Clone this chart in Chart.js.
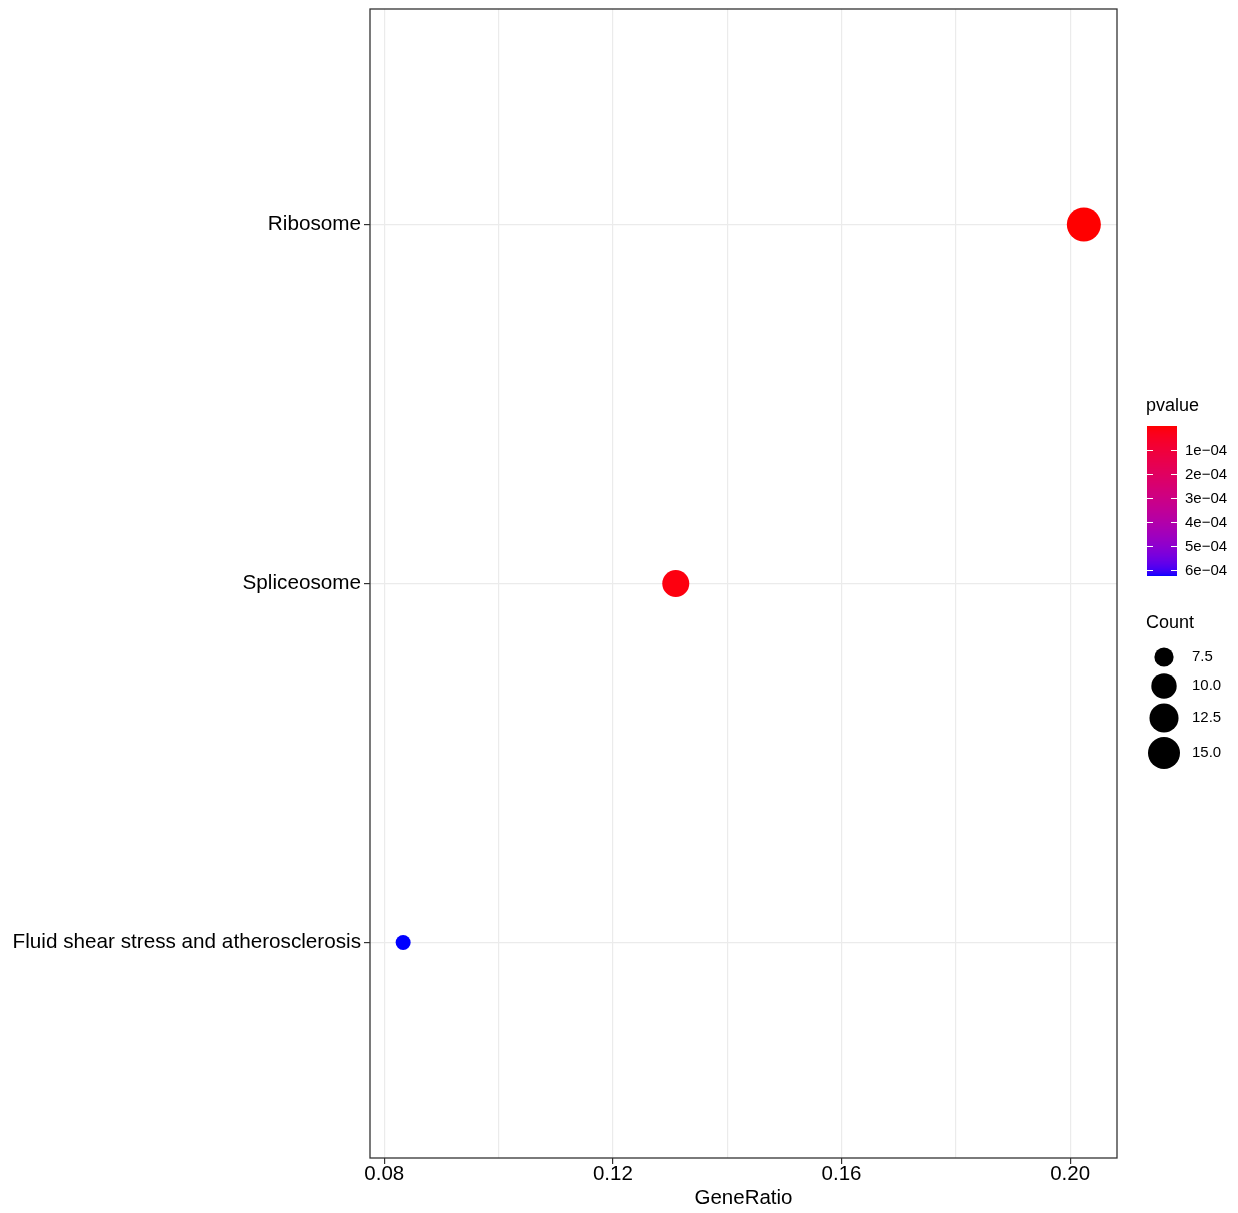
<!DOCTYPE html>
<html lang="en">
<head>
<meta charset="UTF-8" />
<title>KEGG enrichment dotplot</title>
<script src="https://cdn.jsdelivr.net/npm/chart.js"></script>
<style>
  body { margin: 0; background: #fff; }
</style>
</head>
<body>
<canvas id="myChart" width="1238" height="1213"></canvas>
<script>
// pathways, listed top to bottom
const pathways = ['Ribosome', 'Spliceosome', 'Fluid shear stress and atherosclerosis'];
const geneRatio = [0.2024, 0.1310, 0.0833];
const counts = [17, 11, 7];
const pvalues = [1.2e-7, 1.5e-5, 6.25e-4];

// x axis: labelled breaks and the minor grid in between
const xMajor = [0.08, 0.12, 0.16, 0.20];
const xMajorLabels = ['0.08', '0.12', '0.16', '0.20'];
const xMinor = [0.10, 0.14, 0.18];

// legends
const pvalueBreaks = [1e-4, 2e-4, 3e-4, 4e-4, 5e-4, 6e-4];
const pvalueLabels = ['1e\u221204', '2e\u221204', '3e\u221204', '4e\u221204', '5e\u221204', '6e\u221204'];
const countBreaks = [7.5, 10, 12.5, 15];
const countLabels = ['7.5', '10.0', '12.5', '15.0'];

const FONT = "'Liberation Sans', Arial, sans-serif";

// ---- size scale (area style, like scale_size) ----
const countMin = Math.min(...counts), countMax = Math.max(...counts);
function sizeOf(c) {
  const t = Math.max(0, (c - countMin) / (countMax - countMin));
  return 7.5 + 9.5 * Math.sqrt(t);
}

// ---- colour scale: red -> blue interpolated in Lab ----
function toLinear(c) { c /= 255; return c <= 0.04045 ? c / 12.92 : Math.pow((c + 0.055) / 1.055, 2.4); }
function fromLinear(c) {
  c = c <= 0.0031308 ? 12.92 * c : 1.055 * Math.pow(c, 1 / 2.4) - 0.055;
  return Math.round(Math.min(1, Math.max(0, c)) * 255);
}
function rgbToLab(r, g, b) {
  const R = toLinear(r), G = toLinear(g), B = toLinear(b);
  const X = (0.4124 * R + 0.3576 * G + 0.1805 * B) / 0.95047;
  const Y = (0.2126 * R + 0.7152 * G + 0.0722 * B);
  const Z = (0.0193 * R + 0.1192 * G + 0.9505 * B) / 1.08883;
  const f = t => t > 0.008856 ? Math.cbrt(t) : 7.787 * t + 16 / 116;
  const fx = f(X), fy = f(Y), fz = f(Z);
  return [116 * fy - 16, 500 * (fx - fy), 200 * (fy - fz)];
}
function labToRgb(L, a, b) {
  const fy = (L + 16) / 116, fx = fy + a / 500, fz = fy - b / 200;
  const finv = t => t * t * t > 0.008856 ? t * t * t : (t - 16 / 116) / 7.787;
  const X = finv(fx) * 0.95047, Y = finv(fy), Z = finv(fz) * 1.08883;
  const R = 3.2406 * X - 1.5372 * Y - 0.4986 * Z;
  const G = -0.9689 * X + 1.8758 * Y + 0.0415 * Z;
  const B = 0.0557 * X - 0.2040 * Y + 1.0570 * Z;
  return 'rgb(' + fromLinear(R) + ',' + fromLinear(G) + ',' + fromLinear(B) + ')';
}
const labLow = rgbToLab(255, 0, 0), labHigh = rgbToLab(0, 0, 255);
const pMin = Math.min(...pvalues), pMax = Math.max(...pvalues);
function colourOf(p) {
  const t = Math.min(1, Math.max(0, (p - pMin) / (pMax - pMin)));
  return labToRgb(
    labLow[0] + (labHigh[0] - labLow[0]) * t,
    labLow[1] + (labHigh[1] - labLow[1]) * t,
    labLow[2] + (labHigh[2] - labLow[2]) * t
  );
}

// panel border + colourbar + size legend
const decorations = {
  id: 'decorations',
  afterDraw(chart) {
    const ctx = chart.ctx, area = chart.chartArea;
    ctx.save();
    ctx.strokeStyle = '#333';
    ctx.lineWidth = 1.3;
    ctx.strokeRect(area.left, area.top, area.right - area.left, area.bottom - area.top);

    ctx.fillStyle = '#000';
    ctx.textBaseline = 'middle';
    ctx.textAlign = 'left';

    // pvalue colourbar
    ctx.font = '18px ' + FONT;
    ctx.fillText('pvalue', 1146, 406);
    const barX = 1147, barW = 30, barTop = 426, barH = 150;
    for (let i = 0; i < barH; i++) {
      ctx.fillStyle = colourOf(pMin + (pMax - pMin) * (i + 0.5) / barH);
      ctx.fillRect(barX, barTop + i, barW, 1);
    }
    ctx.font = '15px ' + FONT;
    pvalueBreaks.forEach((p, i) => {
      const y = Math.round(barTop + (p - pMin) / (pMax - pMin) * barH) + 0.5;
      ctx.strokeStyle = '#fff';
      ctx.lineWidth = 1.2;
      ctx.beginPath();
      ctx.moveTo(barX, y); ctx.lineTo(barX + 6, y);
      ctx.moveTo(barX + barW - 6, y); ctx.lineTo(barX + barW, y);
      ctx.stroke();
      ctx.fillStyle = '#000';
      ctx.fillText(pvalueLabels[i], 1185, y);
    });

    // Count size legend
    ctx.font = '18px ' + FONT;
    ctx.fillText('Count', 1146, 623);
    const keyY = [657, 686, 718, 753];
    ctx.font = '15px ' + FONT;
    countBreaks.forEach((c, i) => {
      ctx.fillStyle = '#000';
      ctx.beginPath();
      ctx.arc(1164, keyY[i], sizeOf(c), 0, Math.PI * 2);
      ctx.fill();
      ctx.fillText(countLabels[i], 1192, keyY[i]);
    });
    ctx.restore();
  }
};

const points = pathways.map((p, i) => ({ x: geneRatio[i], y: pathways.length - i }));

const config = {
  type: 'scatter',
  data: {
    datasets: [{
      data: points,
      pointRadius: c => sizeOf(counts[c.dataIndex]),
      pointHoverRadius: c => sizeOf(counts[c.dataIndex]),
      pointBackgroundColor: c => colourOf(pvalues[c.dataIndex]),
      pointBorderWidth: 0
    }]
  },
  options: {
    responsive: false,
    animation: false,
    devicePixelRatio: 1,
    layout: { autoPadding: false, padding: { top: 9, right: 121, bottom: 0, left: 0 } },
    plugins: { legend: { display: false }, tooltip: { enabled: false } },
    scales: {
      x: {
        type: 'linear',
        min: 0.0775,
        max: 0.2082,
        afterBuildTicks: s => {
          s.ticks = xMajor.concat(xMinor).sort((a, b) => a - b).map(v => ({ value: v }));
        },
        afterFit: s => { s.height = 55; s.paddingLeft = 0; s.paddingRight = 0; },
        ticks: {
          autoSkip: false,
          maxRotation: 0,
          padding: -2,
          color: '#000',
          font: { family: FONT, size: 20.5 },
          callback: v => {
            const k = xMajor.findIndex(m => Math.abs(m - v) < 1e-9);
            return k >= 0 ? xMajorLabels[k] : '';
          }
        },
        grid: {
          color: '#EBEBEB',
          lineWidth: 1.2,
          tickLength: 6,
          tickColor: c => xMajor.some(m => Math.abs(m - c.tick.value) < 1e-9) ? '#333' : 'rgba(0,0,0,0)'
        },
        border: { display: false },
        title: {
          display: true,
          text: 'GeneRatio',
          color: '#000',
          font: { family: FONT, size: 20.5 },
          padding: { top: 0, bottom: 2 }
        }
      },
      y: {
        type: 'linear',
        min: 0.4,
        max: 3.6,
        afterBuildTicks: s => {
          s.ticks = pathways.map((p, i) => ({ value: pathways.length - i }));
        },
        afterFit: s => { s.width = 370; s.paddingTop = 0; s.paddingBottom = 0; },
        ticks: {
          autoSkip: false,
          padding: 3,
          color: '#000',
          font: { family: FONT, size: 20.7 },
          callback: v => pathways[pathways.length - v]
        },
        grid: { color: '#EBEBEB', lineWidth: 1.2, tickLength: 6, tickColor: '#333' },
        border: { display: false }
      }
    }
  },
  plugins: [decorations]
};

let myChart = new Chart(document.getElementById('myChart'), config);
</script>
</body>
</html>
